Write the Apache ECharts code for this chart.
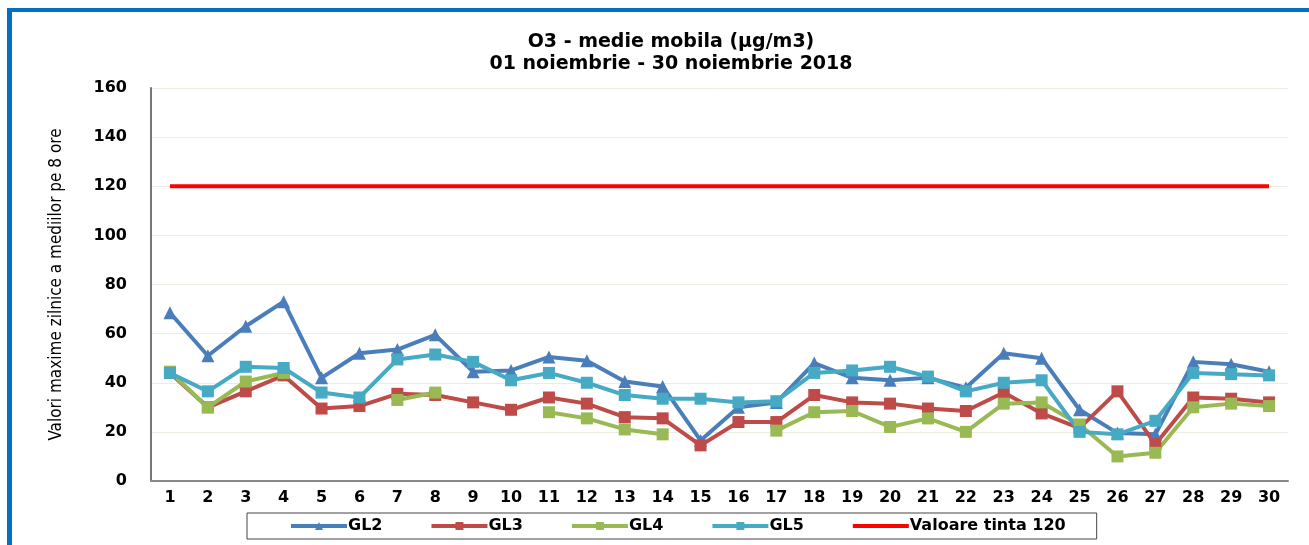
<!DOCTYPE html>
<html>
<head>
<meta charset="utf-8">
<script src="https://cdn.jsdelivr.net/npm/echarts@6/dist/echarts.min.js"></script>
<style>
  html, body { margin: 0; padding: 0; background: #fff; }
  #frame { position: absolute; left: 7px; top: 8px; width: 1310px; height: 545px;
           border-left: 5px solid #0070C0; border-top: 4px solid #0070C0; }
  #chart { position: absolute; left: 0; top: 0; width: 1309px; height: 545px; }
</style>
</head>
<body>
<div id="frame"></div>
<div id="chart"></div>
<script>
// zilele lunii
const days = ['1','2','3','4','5','6','7','8','9','10','11','12','13','14','15',
  '16','17','18','19','20','21','22','23','24','25','26','27','28','29','30']

// valori
const gl2 = [68.5, 51, 63, 73, 42, 52, 53.5, 59.5, 44.5, 45, 50.5, 49, 40.5, 38.5, 16.5,
  30, 32, 48, 42, 41, 42, 38, 52, 50, 29, 19.5, 19, 48.5, 47.5, 44.5]
const gl3 = [44, 30, 36.5, 43, 29.5, 30.5, 35.5, 35, 32, 29, 34, 31.5, 26, 25.5, 14.5,
  24, 24, 35, 32, 31.5, 29.5, 28.5, 36, 27.5, 21.5, 36.5, 15, 34, 33.5, 32]
const gl4 = [44.5, 30, 40.5, 44, null, null, 33, 36, null, null, 28, 25.5, 21, 19, null,
  null, 20.5, 28, 28.5, 22, 25.5, 20, 31.5, 32, 23, 10, 11.5, 30, 31.5, 30.5]
const gl5 = [44, 36.5, 46.5, 46, 36, 34, 49.5, 51.5, 48.5, 41, 44, 40, 35, 33.5, 33.5,
  32, 32.5, 44, 45, 46.5, 42.5, 36.5, 40, 41, 20, 19, 24.5, 44, 43.5, 43]
const tinta = days.map(() => 120)

const chart = echarts.init(document.getElementById('chart'))

function serie (name, data, color, symbol, size) {
  return {
    name: name,
    type: 'line',
    data: data,
    symbol: symbol,
    symbolSize: size,
    connectNulls: false,
    lineStyle: { color: color, width: 4 },
    itemStyle: { color: color },
    emphasis: { disabled: true }
  }
}

const boldFont = 'DejaVu Sans'

chart.setOption({
  animation: false,
  title: {
    text: 'O3 - medie mobila (µg/m3)\n01 noiembrie - 30 noiembrie 2018',
    left: 666,
    textAlign: 'center',
    top: 26,
    textStyle: {
      fontFamily: boldFont, fontWeight: 'bold', fontSize: 19,
      color: '#000', lineHeight: 22
    }
  },
  grid: { left: 151, right: 21, top: 88, bottom: 64 },
  legend: {
    left: 247,
    top: 513,
    padding: [5, 31, 5, 42],
    itemGap: 47,
    itemWidth: 56,
    itemHeight: 10,
    borderColor: '#444',
    borderWidth: 1,
    borderRadius: 0,
    lineStyle: { width: 4 },
    textStyle: { fontFamily: boldFont, fontWeight: 'bold', fontSize: 16, color: '#000', padding: [0, 0, 0, -4] },
    data: ['GL2', 'GL3', 'GL4', 'GL5', { name: 'Valoare tinta 120', itemStyle: { opacity: 0 } }]
  },
  xAxis: {
    type: 'category',
    data: days,
    boundaryGap: true,
    axisLine: { lineStyle: { color: '#888', width: 2 } },
    axisTick: { show: false },
    axisLabel: {
      color: '#000', fontFamily: boldFont, fontWeight: 'bold',
      fontSize: 16, margin: 9, interval: 0
    }
  },
  yAxis: {
    type: 'value',
    min: 0,
    max: 160,
    interval: 20,
    name: 'Valori maxime zilnice a mediilor pe 8 ore',
    nameLocation: 'middle',
    nameGap: 86,
    nameTextStyle: { color: '#000', fontFamily: 'DejaVu Sans Condensed, Liberation Sans', fontSize: 17 },
    axisLine: { show: true, lineStyle: { color: '#777', width: 2 } },
    axisTick: { show: false },
    splitLine: { lineStyle: { color: '#ECECE2', width: 1 } },
    axisLabel: {
      color: '#000', fontFamily: boldFont, fontWeight: 'bold',
      fontSize: 16, margin: 24
    }
  },
  series: [
    serie('GL2', gl2, '#4A7EBB', 'triangle', 13),
    serie('GL3', gl3, '#BE4B48', 'rect', 12),
    serie('GL4', gl4, '#98B954', 'rect', 12),
    serie('GL5', gl5, '#46AAC5', 'rect', 12),
    {
      name: 'Valoare tinta 120',
      type: 'line',
      data: tinta,
      symbol: 'none',
      lineStyle: { color: '#FF0000', width: 4 },
      itemStyle: { color: '#FF0000' },
      emphasis: { disabled: true }
    }
  ]
})
</script>
</body>
</html>
